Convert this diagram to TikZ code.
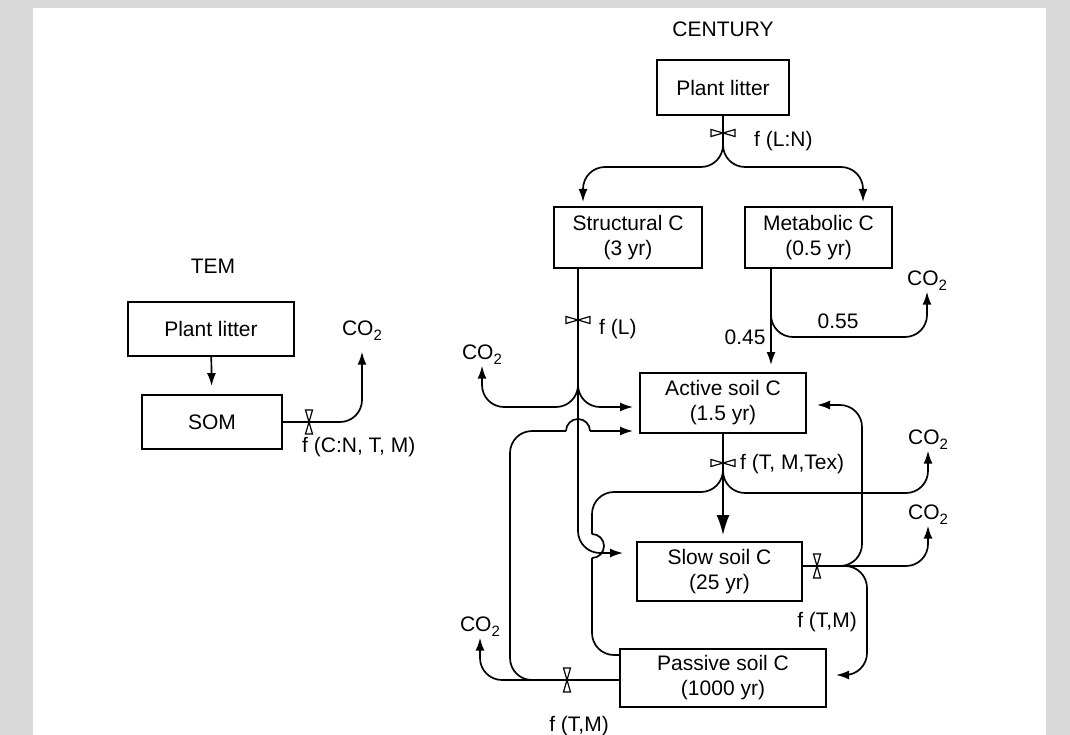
\documentclass[tikz,border=0pt]{standalone}
\usepackage{fontspec}
\setmainfont{Liberation Sans}
\usetikzlibrary{arrows.meta}

\definecolor{framegray}{HTML}{D9D9D9}
\newcommand{\cotwo}{CO\raisebox{-5pt}{\fontsize{15}{15}\selectfont 2}}

\tikzset{
  box/.style={draw, line width=1.8pt, align=center, inner sep=0pt},
  lbl/.style={inner sep=1pt},
  pipe/.style={line width=1.7pt, rounded corners=22pt},
  flow/.style={pipe, -{Latex[length=13pt,width=9pt]}},
  bigflow/.style={pipe, -{Latex[length=20pt,width=13pt]}},
  valve/.pic={\draw[line width=1.2pt, fill=white] (-12,-3.5) -- (-12,3.5) -- (0,0) -- cycle
                                                 (12,-3.5) -- (12,3.5) -- (0,0) -- cycle;}
}

\begin{document}
\begin{tikzpicture}[x=1pt, y=-1pt, font=\fontsize{21}{25}\selectfont]

    % frame
    \fill[framegray] (0,0) rectangle (1070,735);
    \fill[white] (33,8) rectangle (1046,735);
    \useasboundingbox (0,0) rectangle (1070,735);

    % TEM
    \node[lbl] (temtitle) at (213,266) {TEM};
    \node[box, minimum width=166pt, minimum height=54pt] (temlitter) at (211,329) {Plant litter};
    \node[box, minimum width=140pt, minimum height=54pt] (som) at (212,422) {SOM};
    \node[lbl, anchor=base] (cotem) at (362,335.5) {\cotwo};
    \node[lbl, anchor=west] (ftem) at (301,447) {f (C:N, T, M)};
    \coordinate (vtem) at (309,422);

    \draw[flow, shorten >=8pt] (temlitter) -- (som);
    \draw[flow] (som.east) -| ([yshift=-10pt]cotem.south);

    % CENTURY boxes
    \node[lbl] (centitle) at (723,29.5) {CENTURY};
    \node[box, minimum width=132pt, minimum height=55pt] (clitter) at (723,87.5) {Plant litter};
    \node[box, minimum width=148pt, minimum height=61pt] (struct) at (628,237.5) {Structural C\\(3 yr)};
    \node[box, minimum width=147pt, minimum height=61pt] (metab) at (818.5,237.5) {Metabolic C\\(0.5 yr)};
    \node[box, minimum width=166pt, minimum height=60pt] (active) at (723,403) {Active soil C\\(1.5 yr)};
    \node[box, minimum width=165pt, minimum height=59pt] (slow) at (719.5,571.5) {Slow soil C\\(25 yr)};
    \node[box, minimum width=206pt, minimum height=58pt] (passive) at (723,678) {Passive soil C\\(1000 yr)};

    % CO2 outlets
    \node[lbl, anchor=base] (costruct) at (482,359.5) {\cotwo};
    \node[lbl, anchor=base] (cometab) at (927,285.5) {\cotwo};
    \node[lbl, anchor=base] (coactive) at (928,444.5) {\cotwo};
    \node[lbl, anchor=base] (coslow) at (928,519.5) {\cotwo};
    \node[lbl, anchor=base] (copassive) at (480,631.5) {\cotwo};

    % labels
    \node[lbl, anchor=west] (fln) at (753,141) {f (L:N)};
    \node[lbl, anchor=west] (fl) at (598,329) {f (L)};
    \node[lbl, anchor=west] (fac) at (739,464) {f (T, M,Tex)};
    \node[lbl] (fslow) at (827,622) {f (T,M)};
    \node[lbl] (fpass) at (579,726) {f (T,M)};
    \node[lbl] (nmeta) at (745,337) {0.45};
    \node[lbl] (nmetb) at (838,321) {0.55};

    % junctions
    \coordinate (clsplit) at (723,140);
    \coordinate (stin) at (583,202);
    \coordinate (mein) at (863,202);
    \coordinate (stout) at (578,268);
    \coordinate (stsplit) at (578,377);
    \coordinate (acin1) at (633,407);
    \coordinate (acin2) at (633,431);
    \coordinate (slin) at (623,553);
    \coordinate (meout) at (771,268);
    \coordinate (mesplit) at (771,313);
    \coordinate (acintop) at (771,365);
    \coordinate (acsplit) at (723,468);
    \coordinate (slintop) at (723,535);
    \coordinate (pacorner) at (510,431);
    \coordinate (pasplit) at (543,680);
    \coordinate (hopA) at (566,431);
    \coordinate (hopB) at (590,431);
    \coordinate (hopC) at (592,534);
    \coordinate (hopD) at (592,558);
    \coordinate (pain2) at (620,655);
    \coordinate (slout) at (802,566);
    \coordinate (slupsplit) at (822,566);
    \coordinate (sldnsplit) at (842,566);
    \coordinate (upcorner) at (862,405);
    \coordinate (acinright) at (817,405);
    \coordinate (dncorner) at (867,675);
    \coordinate (pain) at (836,675);
    \coordinate (paout) at (620,680);
    % valves
    \coordinate (vcl) at (723,133);
    \coordinate (vst) at (578,320);
    \coordinate (vac) at (723,463);
    \coordinate (vsl) at (817,566);
    \coordinate (vpa) at (567,680);

    % plant litter split
    \draw[pipe] (clitter) -- (clsplit);
    \draw[flow] (clsplit) -- ++(0,27) -| (stin);
    \draw[flow] (clsplit) -- ++(0,27) -| (mein);

    % structural
    \draw[flow] (stout) |- (slin);
    \draw[flow] (stsplit) |- (acin1);
    \draw[flow] (stsplit) -- ++(0,30) -| (costruct.south);

    % metabolic
    \draw[flow] (meout) -- (acintop);
    \draw[flow] (mesplit) -- ++(0,24) -| (cometab.south);

    % active
    \draw[bigflow] (active) -- (slintop);
    \draw[flow] (acsplit) -- ++(0,25) -| (coactive.south);
    \draw[pipe] (acsplit) -- ++(0,24) -| (hopC);
    \draw[pipe, sharp corners] (hopC) arc[start angle=90, end angle=-90, radius=12pt];
    \draw[pipe] (hopD) |- (pain2);

    % slow
    \draw[flow] (slout) -| (coslow.south);
    \draw[flow] (slupsplit) -| (upcorner) -- (acinright);
    \draw[flow] (sldnsplit) -| (dncorner) -- (pain);

    % passive
    \draw[flow] (paout) -| (copassive.south);
    \draw[pipe] (pasplit) -| (pacorner) -- (hopA);
    \draw[pipe, sharp corners] (hopA) arc[start angle=180, end angle=0, radius=12pt];
    \draw[flow] (hopB) -- (acin2);

    % valves
    \pic at (vcl) {valve};
    \pic at (vst) {valve};
    \pic at (vac) {valve};
    \pic[rotate=90] at (vsl) {valve};
    \pic[rotate=90] at (vpa) {valve};
    \pic[rotate=90] at (vtem) {valve};

\end{tikzpicture}
\end{document}
